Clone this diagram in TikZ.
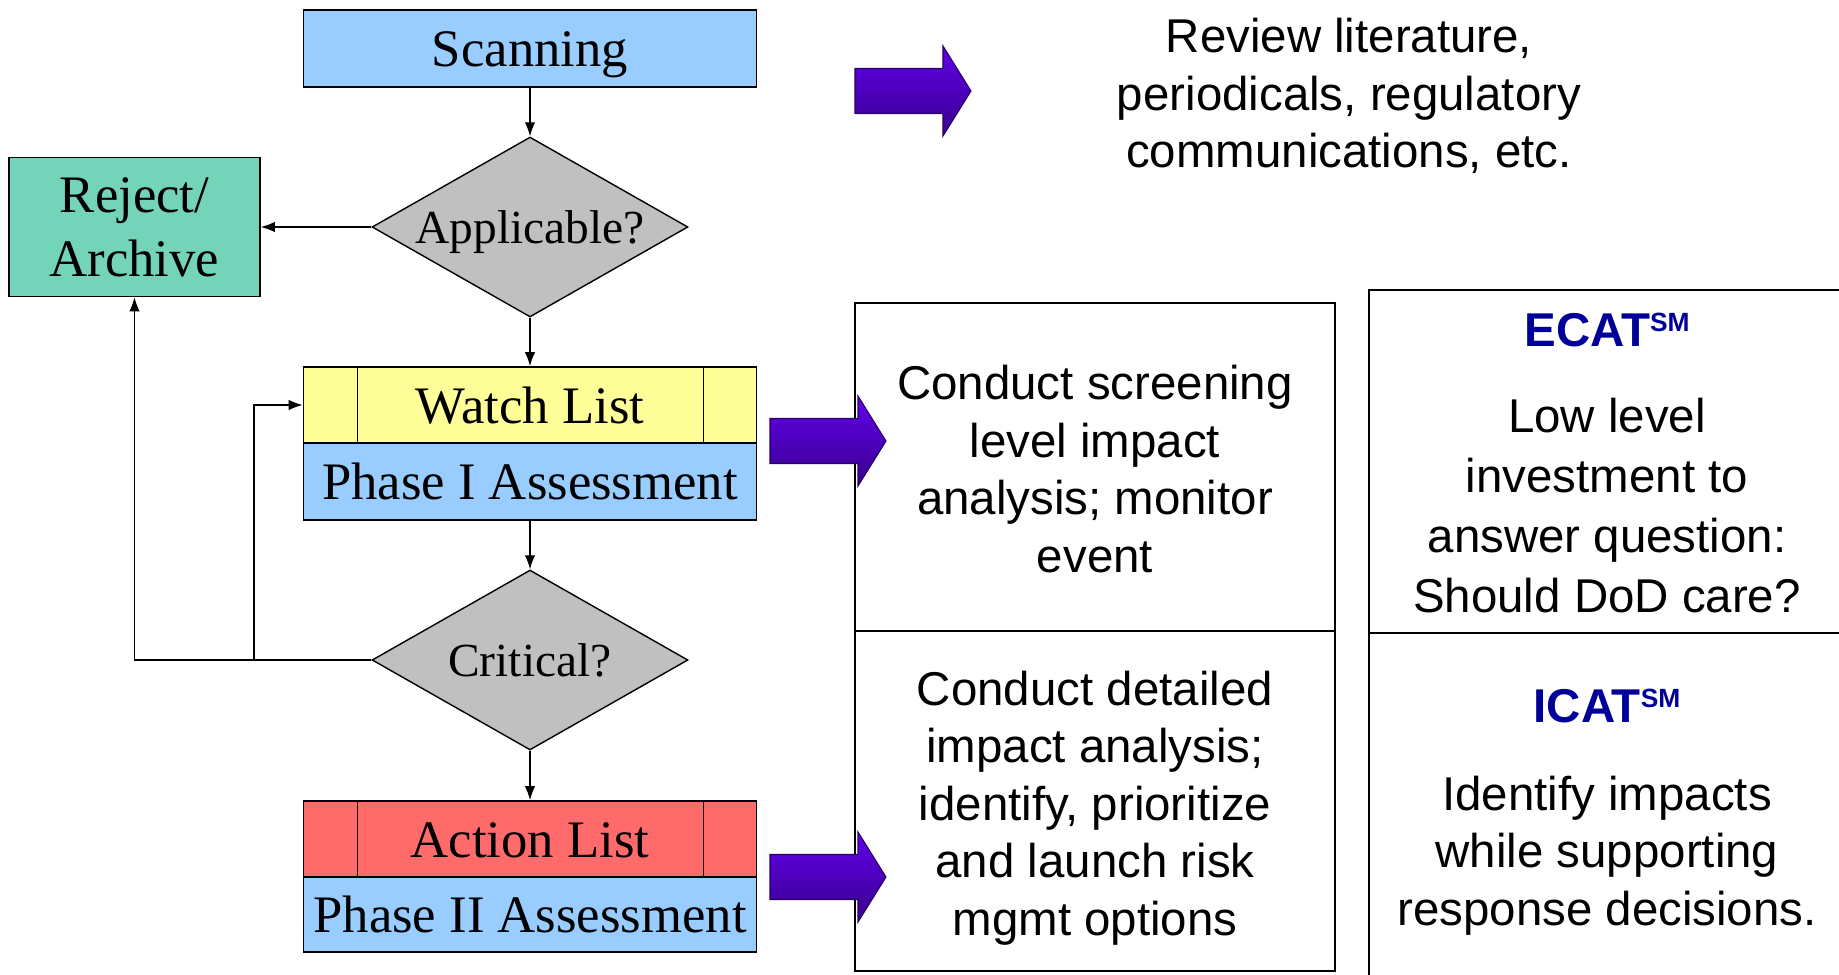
\documentclass[tikz,border=0pt]{standalone}
\usepackage{fontspec}
\setmainfont{Liberation Serif}
\newfontfamily\arialfont{Liberation Sans}
\usetikzlibrary{arrows.meta}
\usetikzlibrary{shapes.geometric}

\definecolor{cajaazul}{RGB}{153,204,255}
\definecolor{cajaverde}{RGB}{115,212,185}
\definecolor{cajagris}{RGB}{192,192,192}
\definecolor{cajaamarilla}{RGB}{255,255,153}
\definecolor{cajaroja}{RGB}{255,106,106}
\definecolor{azulecat}{RGB}{0,0,153}
\definecolor{moradoclaro}{RGB}{98,0,235}
\definecolor{moradooscuro}{RGB}{55,0,140}

\newcommand{\tnrgrande}{\fontsize{30}{36}\selectfont}
\newcommand{\tnrchica}{\fontsize{27}{32}\selectfont}
\newcommand{\arialtexto}{\arialfont\fontsize{27}{32.7}\selectfont}

\tikzset{
	caja/.style={draw, line width=1pt, inner sep=2pt, minimum width=9.06cm, font=\tnrgrande},
	unalinea/.style={text height=21pt, text depth=0pt},
	decision/.style={diamond, draw, line width=0.8pt, fill=cajagris, aspect=1.75, inner sep=0pt, minimum width=6.32cm, minimum height=3.6cm, font=\tnrchica, text height=19pt, text depth=0pt},
	celda/.style={draw, line width=1pt},
	texto/.style={align=center, font=\arialtexto},
	flecha/.style={line width=0.8pt, >={Latex[length=8pt,width=6pt]}},
	flechamorada/.style={draw=moradooscuro!70!black, line width=0.6pt, top color=moradoclaro, bottom color=moradooscuro},
	titulo/.style={font=\arialfont\bfseries\fontsize{27}{32}\selectfont, text=azulecat}
}

\begin{document}
\begin{tikzpicture}[x=0.02cm, y=-0.02cm]
	\useasboundingbox (0,0) rectangle (1839,974);
	\node[caja, unalinea, fill=cajaazul, minimum height=1.54cm] (scan) at (530,48.5) {Scanning}; %caja inicial
	\node[decision] (app) at (530,227) {Applicable?}; %primera pregunta
	\node[caja, fill=cajaverde, minimum width=5.02cm, minimum height=2.78cm, align=center, text depth=0pt] (reject) at (134.5,227) {Reject/\\Archive}; %rechazo
	\node[caja, unalinea, fill=cajaamarilla, minimum height=1.52cm] (watch) at (530,405) {Watch List}; %lista de vigilancia
	\node[caja, unalinea, fill=cajaazul, minimum height=1.54cm] (fase1) at (530,481.5) {Phase I Assessment};
	\node[decision] (crit) at (530,660) {Critical?}; %segunda pregunta
	\node[caja, unalinea, fill=cajaroja, minimum height=1.52cm] (action) at (530,839) {Action List}; %lista de accion
	\node[caja, unalinea, fill=cajaazul, minimum height=1.5cm] (fase2) at (530,914.5) {Phase II Assessment};
	\foreach \n in {watch,action} { %divisiones de las listas
		\draw[line width=0.8pt] ([xshift=1.1cm]\n.north west) -- ([xshift=1.1cm]\n.south west);
		\draw[line width=0.8pt] ([xshift=-1.08cm]\n.north east) -- ([xshift=-1.08cm]\n.south east);
	}
	\draw[flecha,->] (scan) -- (app);
	\draw[flecha,->] (app) -- (reject);
	\draw[flecha,->] (app) -- (watch);
	\draw[flecha,->] (fase1) -- (crit);
	\draw[flecha,->] (crit) -- (action);
	\draw[flecha,->] (crit.west) -| (reject.south); %regreso a rechazo
	\coordinate (ramal) at (254,660);
	\draw[flecha,->] (ramal) |- (watch.west); %regreso a la lista
	\node[texto] (review) at (1349,96) {Review literature,\\periodicals, regulatory\\communications, etc.}; %texto de arriba
	\node[celda, minimum width=9.6cm, minimum height=6.56cm] (screencell) at (1095,467) {}; %celdas del centro
	\node[celda, minimum width=9.6cm, minimum height=6.8cm] (detailcell) at (1095,801) {};
	\node[celda, minimum width=9.52cm, minimum height=6.86cm] (ecatcell) at (1607,461.5) {}; %celdas de la derecha
	\node[celda, minimum width=9.52cm, minimum height=7.04cm] (icatcell) at (1607,809) {};
	\node[texto] (screen) at (1095,469) {Conduct screening\\level impact\\analysis; monitor\\event};
	\node[texto] (detail) at (1095,808) {Conduct detailed\\impact analysis;\\identify, prioritize\\and launch risk\\mgmt options};
	\node[titulo] (ecat) at (1607,330) {ECAT\raisebox{8.6pt}{\fontsize{15}{15}\selectfont SM}};
	\node[texto, font=\arialfont\fontsize{27}{34}\selectfont] (lowlevel) at (1607,505.5) {Low level\\investment to\\answer question:\\Should DoD care?};
	\node[titulo] (icat) at (1607,706) {ICAT\raisebox{8.6pt}{\fontsize{15}{15}\selectfont SM}};
	\node[texto] (identify) at (1607,855.5) {Identify impacts\\while supporting\\response decisions.};
	\foreach \ax/\ay in {855/91, 770/441, 770/877} %flechas moradas
		\draw[flechamorada] (\ax,\ay-22.5) -- ++(88,0) -- ++(0,-22.5) -- ++(28,45) -- ++(-28,45) -- ++(0,-22.5) -- ++(-88,0) -- cycle;
\end{tikzpicture}
\end{document}
